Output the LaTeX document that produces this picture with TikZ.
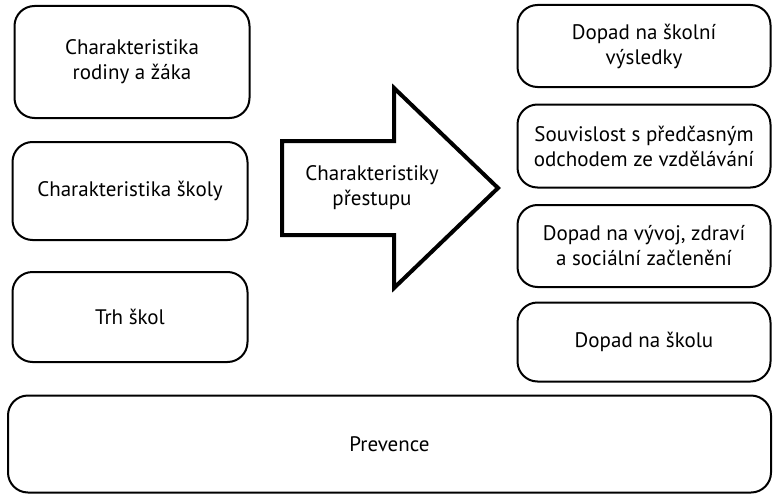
\documentclass[tikz,border=0pt]{standalone}
\usepackage{fontspec}
\setmainfont{PT Sans}
\usepackage{tikz}

\begin{document}
\begin{tikzpicture}[x=1pt,y=-1pt,
    box/.style={draw,line width=2pt,rounded corners=20pt,align=center,
        font=\fontsize{21}{25}\selectfont,inner sep=0pt},
    leftbox/.style={box,minimum width=235pt},
    rightbox/.style={box,minimum width=253pt}]
\useasboundingbox (0,0) rectangle (773,495);
% left column
\node[leftbox,minimum height=112pt] (rodina) at (132,62) {Charakteristika\\rodiny a žáka};
\node[leftbox,minimum height=98pt] (skola) at (130,191) {Charakteristika školy};
\node[leftbox,minimum height=90pt] (trh) at (130,317) {Trh škol};
% arrow
\draw[line width=4pt,line join=miter] (282,141) -- (394,141) -- (394,88) -- (498,188)
    -- (394,288) -- (394,235) -- (282,235) -- cycle;
\node[align=center,font=\fontsize{21}{25}\selectfont] (prestup) at (372,188) {Charakteristiky\\přestupu};
% right column
\node[rightbox,minimum height=82pt] (vysledky) at (644,46) {Dopad na školní\\výsledky};
\node[rightbox,minimum height=83pt] (odchod) at (644,146) {Souvislost s předčasným\\odchodem ze vzdělávání};
\node[rightbox,minimum height=82pt] (vyvoj) at (644,246) {Dopad na vývoj, zdraví\\a sociální začlenění};
\node[rightbox,minimum height=79pt] (dopad) at (644,342) {Dopad na školu};
% bottom
\node[box,minimum width=763pt,minimum height=97pt] (prevence) at (389.5,444) {Prevence};
\end{tikzpicture}
\end{document}
